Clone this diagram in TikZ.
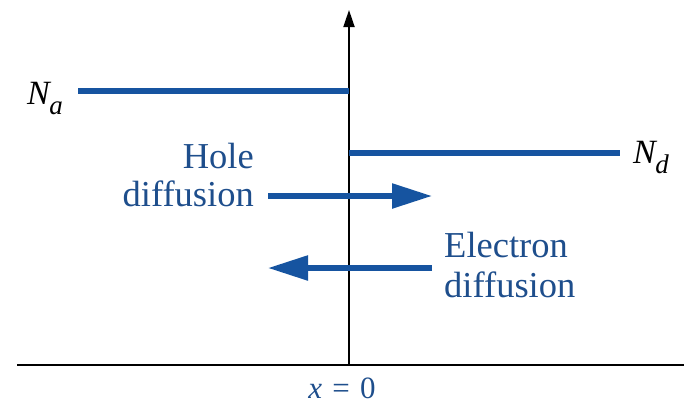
\documentclass[tikz,border=0pt]{standalone}
\usepackage{fontspec}
\setmainfont{Liberation Serif}
\usetikzlibrary{arrows.meta}
\definecolor{lineblue}{RGB}{22,84,160}
\definecolor{textblue}{RGB}{30,78,140}
\begin{document}
\begin{tikzpicture}[x=1pt,y=-1pt,
  level/.style={draw=lineblue,line width=5.5pt},
  flow/.style={draw=lineblue,line width=5.5pt,-{Triangle[length=40pt,width=24pt]}},
  axis/.style={draw=black,line width=1.8pt},
  lbl/.style={text=textblue,font=\fontsize{36.5}{40}\selectfont,inner sep=0pt},
  sym/.style={text=black,font=\fontsize{34}{38}\selectfont,inner sep=0pt}]
\useasboundingbox (0,0) rectangle (684,410);
% axes
\coordinate (o) at (349,365);
\coordinate (top) at (349,10);
\coordinate (xl) at (17,365);
\coordinate (xr) at (684,365);
\draw[axis] (xl) -- (xr);
\draw[axis,-{Triangle[length=17pt,width=11pt]}] (o) -- (top);
% doping levels
\coordinate (na1) at (78,91);
\coordinate (na2) at (349,91);
\coordinate (nd1) at (349,153);
\coordinate (nd2) at (620,153);
\draw[level] (na1) -- (na2);
\draw[level] (nd1) -- (nd2);
\node[sym,anchor=base west] (Na) at (27,104) {\textit{N}\kern-2pt\raisebox{-0.3em}{\fontsize{27}{30}\selectfont\textit{a}}};
\node[sym,anchor=base west] (Nd) at (633,163) {\textit{N}\kern-2pt\raisebox{-0.3em}{\fontsize{27}{30}\selectfont\textit{d}}};
% diffusion arrows
\coordinate (h1) at (268,196);
\coordinate (h2) at (432,196);
\coordinate (e1) at (432,268);
\coordinate (e2) at (268,268);
\draw[flow] (h1) -- (h2);
\draw[flow] (e1) -- (e2);
\node[lbl,anchor=base east] (hole) at (254,168) {Hole};
\node[lbl,anchor=base east] (holed) at (254,206) {diffusion};
\node[lbl,anchor=base west] (elec) at (444,257) {Electron};
\node[lbl,anchor=base west] (elecd) at (444,297) {diffusion};
% x = 0
\node[lbl,anchor=base,font=\fontsize{31}{36}\selectfont] (x0) at (342,398) {\textit{x}\,\,=\,\,0};
\end{tikzpicture}
\end{document}
